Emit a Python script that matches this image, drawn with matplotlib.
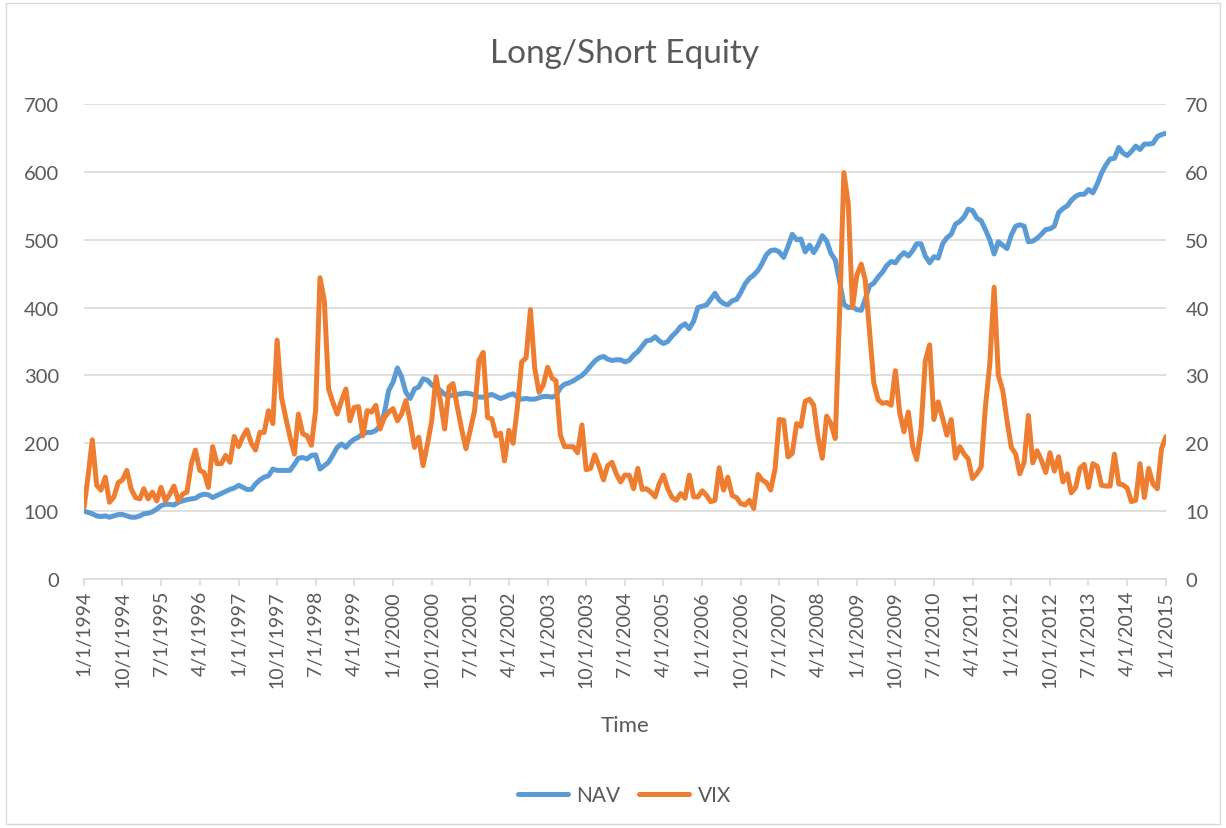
import numpy as np
import pandas as pd
import matplotlib.pyplot as plt
from matplotlib.patches import Rectangle

# NAV 月度数据, 1/1994 - 1/2015 (每行一年)
nav = [100, 98, 96, 93, 92, 93, 91, 93, 95, 95, 93, 91,
       91, 93, 96, 97, 99, 103, 108, 110, 110, 109, 113, 115,
       117, 118, 119, 123, 125, 124, 120, 123, 126, 129, 132, 134,
       138, 135, 132, 132, 140, 146, 150, 152, 162, 160, 160, 160,
       160, 169, 178, 179, 177, 182, 183, 162, 167, 172, 183, 194,
       199, 194, 201, 206, 209, 214, 216, 216, 219, 226, 245, 278,
       290, 311, 298, 275, 266, 280, 283, 295, 293, 286, 282, 278,
       272, 270, 271, 272, 273, 274, 273, 271, 268, 268, 270, 272,
       269, 266, 268, 271, 273, 268, 265, 266, 265, 265, 267, 269,
       269, 268, 270, 282, 287, 289, 292, 296, 300, 306, 314, 321,
       326, 328, 324, 322, 323, 323, 320, 322, 330, 335, 343, 351,
       352, 357, 351, 347, 350, 358, 364, 372, 376, 369, 380, 400,
       402, 404, 412, 421, 411, 406, 404, 410, 412, 422, 435, 443,
       448, 455, 465, 478, 484, 485, 482, 474, 490, 508, 500, 501,
       482, 492, 481, 492, 506, 498, 480, 470, 438, 405, 400, 401,
       397, 396, 412, 432, 436, 445, 452, 462, 468, 466, 475, 481,
       476, 484, 494, 494, 476, 466, 475, 473, 494, 503, 508, 523,
       527, 534, 545, 543, 532, 528, 515, 500, 479, 497, 492, 487,
       507, 520, 522, 520, 497, 498, 502, 508, 515, 516, 520, 540,
       546, 550, 558, 564, 567, 567, 574, 569, 582, 598, 610, 619,
       620, 636, 628, 624, 630, 638, 633, 641, 641, 642, 652, 655,
       657]

# VIX 月末收盘
vix = [10.5, 15.5, 20.5, 13.8, 13.1, 15.0, 11.3, 12.1, 14.2, 14.6, 16.0, 13.3,
       12.0, 11.8, 13.3, 11.8, 12.8, 11.5, 13.5, 11.5, 12.5, 13.7, 11.5, 12.5,
       12.8, 17.0, 19.0, 16.0, 15.7, 13.5, 19.5, 17.0, 17.0, 18.2, 17.2, 21.0,
       19.5, 21.0, 22.0, 20.0, 19.0, 21.6, 21.6, 24.8, 22.9, 35.2, 26.8, 23.8,
       20.9, 18.4, 24.3, 21.4, 21.1, 19.7, 24.8, 44.4, 41.0, 28.0, 26.0, 24.3,
       26.3, 28.0, 23.3, 25.3, 25.4, 21.1, 24.8, 24.6, 25.6, 22.1, 23.8, 24.6,
       25.1, 23.3, 24.3, 26.3, 23.3, 19.4, 20.9, 16.7, 19.9, 23.3, 29.8, 26.3,
       22.1, 28.3, 28.8, 25.3, 22.1, 19.2, 21.9, 24.8, 32.2, 33.4, 23.8, 23.6,
       21.1, 21.5, 17.4, 21.9, 20.0, 25.4, 32.0, 32.6, 39.7, 31.1, 27.5, 28.6,
       31.2, 29.6, 29.2, 21.2, 19.5, 19.5, 19.5, 18.6, 22.7, 16.1, 16.3, 18.3,
       16.6, 14.6, 16.7, 17.2, 15.5, 14.3, 15.3, 15.3, 13.3, 16.3, 13.2, 13.3,
       12.8, 12.1, 14.0, 15.3, 13.3, 12.0, 11.6, 12.6, 11.9, 15.3, 12.1, 12.1,
       13.0, 12.3, 11.4, 11.6, 16.4, 13.1, 15.0, 12.3, 12.0, 11.1, 10.9, 11.6,
       10.4, 15.4, 14.6, 14.2, 13.1, 16.2, 23.5, 23.4, 18.0, 18.5, 22.9, 22.5,
       26.2, 26.5, 25.6, 20.8, 17.8, 24.0, 22.9, 20.7, 39.4, 59.9, 55.3, 40.0,
       44.8, 46.4, 44.1, 36.5, 28.9, 26.4, 25.9, 26.0, 25.6, 30.7, 24.5, 21.7,
       24.6, 19.5, 17.6, 22.1, 32.1, 34.5, 23.5, 26.1, 23.7, 21.2, 23.5, 17.8,
       19.5, 18.4, 17.7, 14.8, 15.5, 16.5, 25.3, 31.6, 43.0, 30.0, 27.8, 23.4,
       19.4, 18.4, 15.5, 17.2, 24.1, 17.1, 18.9, 17.5, 15.7, 18.6, 15.9, 18.0,
       14.3, 15.5, 12.7, 13.5, 16.3, 16.9, 13.5, 17.0, 16.6, 13.8, 13.7, 13.7,
       18.4, 14.0, 13.9, 13.4, 11.4, 11.6, 17.0, 12.0, 16.3, 14.0, 13.3, 19.2,
       21.0]

nav_ticks = [0, 100, 200, 300, 400, 500, 600, 700]
vix_ticks = [0, 10, 20, 30, 40, 50, 60, 70]


if __name__ == '__main__':
    plt.rcParams['font.family'] = ['Lato', 'DejaVu Sans']
    months = pd.date_range('1994-01-01', periods=len(nav), freq='MS')
    tick_dates = months[::9]
    tick_labels = ['%d/%d/%d' % (d.month, d.day, d.year) for d in tick_dates]

    fig = plt.figure(figsize=(12.26, 8.29), dpi=100)
    # 图表外框
    fig.patches.append(Rectangle((0.005, 0.005), 0.99, 0.99, transform=fig.transFigure,
                                 fill=False, edgecolor='#D9D9D9', linewidth=1))

    # 左轴: NAV
    ax1 = plt.axes([0.0685, 0.3004, 0.8825, 0.5729])
    l1, = plt.plot(months, nav, color='#5B9BD5', linewidth=3.6, label='NAV', solid_capstyle='round')
    plt.ylim(0, 700)
    plt.yticks(nav_ticks)
    plt.xlim(months[0], months[-1])
    plt.xticks(tick_dates, tick_labels, rotation=90)
    plt.grid(axis='y', color='#D9D9D9', linewidth=1.2)
    ax1.set_axisbelow(True)
    for s in ['top', 'left', 'right']:
        ax1.spines[s].set_visible(False)
    ax1.spines['bottom'].set_color('#D9D9D9')
    ax1.spines['bottom'].set_linewidth(1.2)
    ax1.tick_params(axis='y', length=0, pad=18, labelsize=14.5, labelcolor='#595959')
    ax1.tick_params(axis='x', length=5, width=1.2, color='#D9D9D9', pad=3,
                    labelsize=14, labelcolor='#595959')
    plt.xlabel('Time', fontsize=16, color='#595959', labelpad=20)
    plt.title('Long/Short Equity', fontsize=24, color='#595959', pad=30)

    # 右轴: VIX
    ax2 = plt.twinx()
    l2, = plt.plot(months, vix, color='#ED7D31', linewidth=3.6, label='VIX', solid_capstyle='round')
    plt.ylim(0, 70)
    plt.yticks(vix_ticks)
    for s in ['top', 'left', 'right', 'bottom']:
        ax2.spines[s].set_visible(False)
    ax2.tick_params(axis='y', length=0, pad=14, labelsize=14.5, labelcolor='#595959')

    fig.legend(handles=[l1, l2], loc='center', bbox_to_anchor=(0.5094, 1 - 796 / 829), ncol=2,
               frameon=False, fontsize=15, labelcolor='#595959', handlelength=2.4,
               handletextpad=0.4, columnspacing=0.9)
    plt.savefig('out.png', dpi=100)
